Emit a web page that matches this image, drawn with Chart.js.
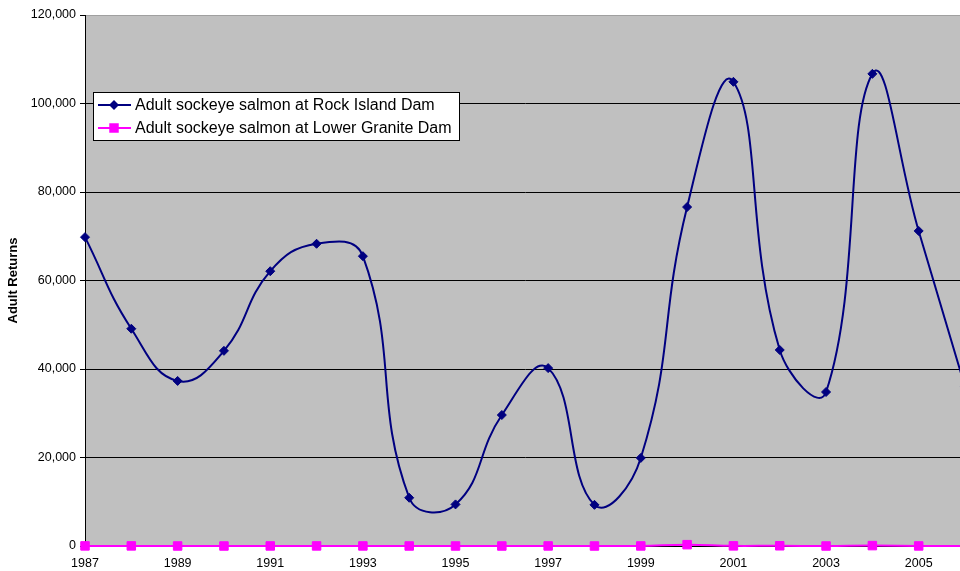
<!DOCTYPE html>
<html>
<head>
<meta charset="utf-8">
<script src="https://cdn.jsdelivr.net/npm/chart.js@4/dist/chart.umd.min.js"></script>
<style>
  html, body { margin: 0; padding: 0; background: #fff; overflow: hidden; }
</style>
</head>
<body>
<canvas id="salmonChart" width="980" height="571"></canvas>
<script>
const years = [1987, 1988, 1989, 1990, 1991, 1992, 1993, 1994, 1995, 1996,
               1997, 1998, 1999, 2000, 2001, 2002, 2003, 2004, 2005, 2006];
const rockIsland = [69800, 49100, 37300, 44100, 62100, 68300, 65500, 10900, 9400, 29600,
                    40200, 9300, 19900, 76600, 104900, 44300, 34800, 106700, 71200, 36000];
const lowerGranite = [20, 20, 0, 0, 10, 15, 10, 5, 0, 0,
                      10, 0, 10, 300, 30, 50, 0, 90, 10, 0];
const seriesNames = ['Adult sockeye salmon at Rock Island Dam', 'Adult sockeye salmon at Lower Granite Dam'];
const yTicks = [0, 20000, 40000, 60000, 80000, 100000, 120000];

const FONT = 'Arial, "Liberation Sans", sans-serif';

// grey plot area like the old Excel default
const plotBackground = {
  id: 'plotBackground',
  beforeDraw(chart) {
    const { ctx, chartArea: a } = chart;
    ctx.save();
    ctx.fillStyle = '#c0c0c0';
    ctx.fillRect(a.left, a.top, a.right - a.left, a.bottom - a.top);
    ctx.strokeStyle = '#a0a0a0';
    ctx.lineWidth = 1;
    ctx.strokeRect(a.left + 0.5, a.top + 0.5, a.right - a.left, a.bottom - a.top);
    ctx.restore();
  }
};

// legend box floating inside the plot
const boxLegend = {
  id: 'boxLegend',
  afterDraw(chart) {
    const ctx = chart.ctx;
    const x = 93, y = 92, w = 366, h = 48;
    ctx.save();
    ctx.fillStyle = '#fff';
    ctx.fillRect(x, y, w, h);
    ctx.strokeStyle = '#000';
    ctx.lineWidth = 1;
    ctx.strokeRect(x + 0.5, y + 0.5, w, h);
    chart.data.datasets.forEach((ds, i) => {
      const cy = y + 13 + i * 23;
      ctx.strokeStyle = ds.borderColor;
      ctx.lineWidth = ds.borderWidth;
      ctx.beginPath();
      ctx.moveTo(x + 5, cy);
      ctx.lineTo(x + 38, cy);
      ctx.stroke();
      const mx = x + 21;
      ctx.fillStyle = ds.pointBackgroundColor;
      ctx.beginPath();
      if (ds.pointStyle === 'rectRot') {
        const r = ds.pointRadius + 0.5;
        ctx.moveTo(mx, cy - r);
        ctx.lineTo(mx + r, cy);
        ctx.lineTo(mx, cy + r);
        ctx.lineTo(mx - r, cy);
        ctx.closePath();
      } else {
        const s = ds.pointRadius * Math.SQRT1_2 + 0.5;
        ctx.rect(mx - s, cy - s, 2 * s, 2 * s);
      }
      ctx.fill();
      ctx.fillStyle = '#000';
      ctx.font = '16px ' + FONT;
      ctx.textBaseline = 'middle';
      ctx.fillText(ds.label, x + 42, cy + 1);
    });
    ctx.restore();
  }
};

const ctx = document.getElementById('salmonChart').getContext('2d');

const salmonChart = new Chart(ctx, {
  type: 'line',
  data: {
    labels: years,
    datasets: [{
      label: seriesNames[0],
      data: rockIsland,
      borderColor: '#000080',
      borderWidth: 2,
      pointStyle: 'rectRot',
      pointRadius: 4.5,
      pointBackgroundColor: '#000080',
      pointBorderColor: '#000080',
      pointBorderWidth: 1,
      tension: 0.45,
      clip: false
    }, {
      label: seriesNames[1],
      data: lowerGranite,
      borderColor: '#ff00ff',
      borderWidth: 2,
      pointStyle: 'rect',
      pointRadius: 6,
      pointBackgroundColor: '#ff00ff',
      pointBorderColor: '#ff00ff',
      pointBorderWidth: 1,
      tension: 0.45,
      clip: false
    }]
  },
  options: {
    responsive: false,
    animation: false,
    layout: { padding: { top: 15, right: 15, left: 0, bottom: 0 } },
    plugins: {
      legend: { display: false },
      tooltip: { enabled: false }
    },
    scales: {
      x: {
        grid: { display: false, drawTicks: false },
        border: { color: '#000', width: 1 },
        ticks: {
          autoSkip: false,
          maxRotation: 0,
          padding: 10,
          color: '#000',
          font: { family: FONT, size: 12.5 },
          callback: (v, i) => (years[i] % 2 === 1 ? String(years[i]) : '')
        },
        afterFit: s => { s.height = 25; }
      },
      y: {
        min: 0,
        max: 120000,
        afterBuildTicks: s => { s.ticks = yTicks.map(v => ({ value: v })); },
        grid: {
          color: c => (c.tick && c.tick.value === 120000 ? '#a0a0a0' : '#000'),
          tickColor: '#000',
          tickLength: 5,
          lineWidth: 1
        },
        border: { color: '#000', width: 1 },
        ticks: {
          padding: 4,
          color: '#000',
          font: { family: FONT, size: 12.5 },
          callback: v => v.toLocaleString('en-US')
        },
        title: {
          display: true,
          text: 'Adult Returns',
          color: '#000',
          font: { family: FONT, size: 13, weight: 'bold' },
          padding: { top: 6, bottom: 0 }
        },
        afterFit: s => { s.width = 85; }
      }
    }
  },
  plugins: [plotBackground, boxLegend]
});
</script>
</body>
</html>
